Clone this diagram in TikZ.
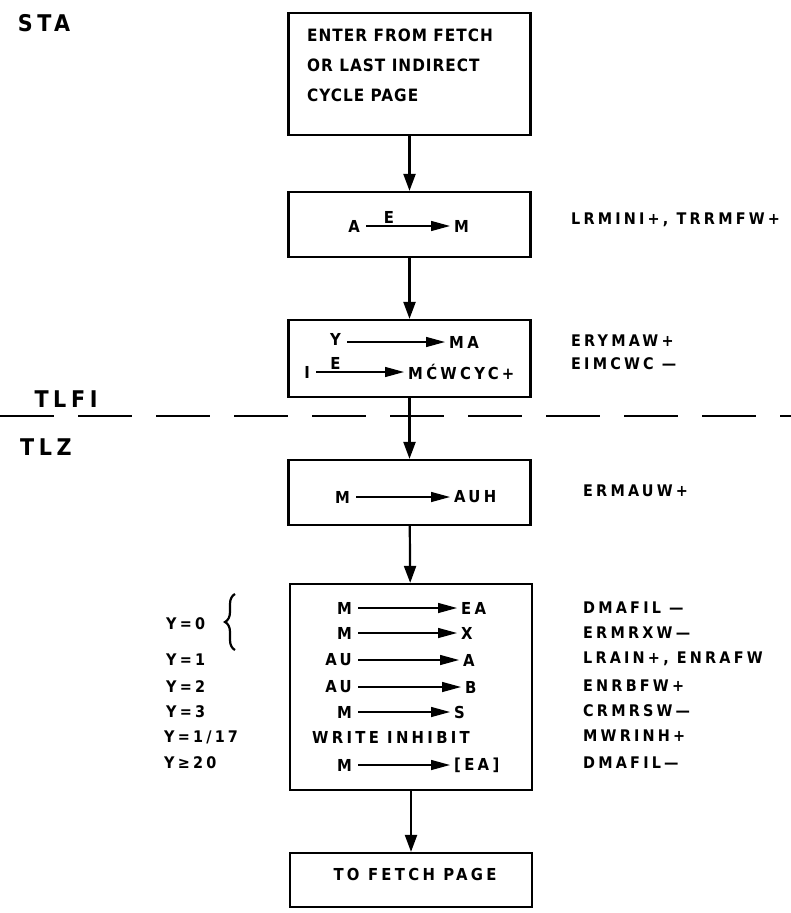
\documentclass[tikz,border=0pt]{standalone}
\usepackage{fontspec}
\newfontfamily\lettering{DejaVu Sans Condensed}[LetterSpace=6]
\newfontfamily\spaced{DejaVu Sans Condensed}[LetterSpace=20]
\usetikzlibrary{arrows.meta, decorations.pathreplacing}
\tikzset{
    % Boxes - plain rectangles
    stepbox/.style={
        rectangle,
        draw,
        line width=2.2pt,
        minimum width=242pt,
        inner sep=0pt
    },
    % Arrow styles
    flow/.style={
        -{Triangle[length=17pt,width=12pt]},
        line width=2.2pt
    },
    xfer/.style={
        -{Triangle[length=19pt,width=10pt]},
        line width=1.4pt,
        shorten <=4pt,
        shorten >=2pt
    },
    % Text styles
    reg/.style={
        font=\spaced\bfseries\fontsize{16.5}{20}\selectfont,
        inner sep=2pt
    },
    sig/.style={
        font=\spaced\bfseries\fontsize{16}{19}\selectfont,
        anchor=west,
        inner sep=0pt
    },
    side/.style={
        font=\spaced\bfseries\fontsize{23}{27}\selectfont,
        inner sep=0pt
    },
    note/.style={
        font=\lettering\bfseries\fontsize{17}{30}\selectfont,
        align=left,
        anchor=west,
        inner sep=0pt
    }
}

\begin{document}
\begin{tikzpicture}[x=1pt, y=-1pt]
    \useasboundingbox (0,0) rectangle (791,913);

    % Page labels
    \node[side] (sta) at (44,23) {STA};
    \node[side] (tlfi) at (66,399) {TLFI};
    \node[side] (tlz) at (46,447) {TLZ};
    \coordinate (cutL) at (0,416);
    \coordinate (cutR) at (791,416);
    \draw[line width=2.6pt, dash pattern=on 54pt off 24pt] (cutL) -- (cutR);

    % Entry
    \node[stepbox, minimum height=122pt] (entry) at (409.5,74) {};
    \node[note] (entrytxt) at (307,65) {ENTER FROM FETCH\\OR LAST INDIRECT\\CYCLE PAGE};

    % A to M
    \node[stepbox, minimum height=65pt] (s1) at (409.5,224.5) {};
    \node[reg, anchor=east] (s1a) at (362,226) {A};
    \node[reg, anchor=west] (s1m) at (452,226) {M};
    \draw[xfer] (s1a) -- node[reg, above, pos=0.3] (s1e) {E} (s1m);
    \node[sig] (s1sig) at (571,220) {LRMINI+, TRRMFW+};

    % Y to MA, I to MCWCYC
    \node[stepbox, minimum height=77pt] (s2) at (409.5,358.5) {};
    \node[reg, anchor=east] (s2y) at (343,339) {Y};
    \node[reg, anchor=west] (s2ma) at (447,342) {MA};
    \draw[xfer] (s2y.east |- s2ma) -- (s2ma);
    \node[reg, anchor=east] (s2i) at (312,372) {I};
    \node[reg, anchor=west] (s2mc) at (406,372) {M\'CWCYC+};
    \draw[xfer] (s2i) -- node[reg, above, pos=0.25] (s2e) {E} (s2mc);
    \node[sig] (s2sig) at (571,341) {ERYMAW+};
    \node[sig] (s2sigb) at (571,364) {EIMCWC —};

    % M to AUH
    \node[stepbox, minimum height=65pt] (s3) at (409.5,492.5) {};
    \node[reg, anchor=east] (s3m) at (352,497) {M};
    \node[reg, anchor=west] (s3auh) at (452,497) {AUH};
    \draw[xfer] (s3m) -- (s3auh);
    \node[sig] (s3sig) at (583,491) {ERMAUW+};

    % Transfers by Y
    \node[stepbox, minimum height=206pt] (s4) at (411,687) {};
    \node[reg, anchor=east] (r1a) at (354,608) {M};
    \node[reg, anchor=west] (r1b) at (459,608) {EA};
    \node[reg, anchor=east] (r2a) at (354,633) {M};
    \node[reg, anchor=west] (r2b) at (459,633) {X};
    \node[reg, anchor=east] (r3a) at (354,660) {AU};
    \node[reg, anchor=west] (r3b) at (461,660) {A};
    \node[reg, anchor=east] (r4a) at (354,687) {AU};
    \node[reg, anchor=west] (r4b) at (463,687) {B};
    \node[reg, anchor=east] (r5a) at (354,712) {M};
    \node[reg, anchor=west] (r5b) at (452,712) {S};
    \node[reg] (r6) at (391,737) {WRITE\enspace INHIBIT};
    \node[reg, anchor=east] (r7a) at (354,765) {M};
    \node[reg, anchor=west] (r7b) at (452,765) {[EA]};
    \draw[xfer] (r1a) -- (r1b);
    \draw[xfer] (r2a) -- (r2b);
    \draw[xfer] (r3a) -- (r3b);
    \draw[xfer] (r4a) -- (r4b);
    \draw[xfer] (r5a) -- (r5b);
    \draw[xfer] (r7a) -- (r7b);

    \node[sig] (y0) at (166,624) {Y=0};
    \coordinate (braceBot) at (235,650);
    \coordinate (braceTop) at (235,594);
    \draw[line width=2.2pt, decorate, decoration={brace, amplitude=10pt}] (braceBot) -- (braceTop);
    \node[sig] (y1) at (166,660) {Y=1};
    \node[sig] (y2) at (166,687) {Y=2};
    \node[sig] (y3) at (166,712) {Y=3};
    \node[sig] (y17) at (164,737) {Y=1/17};
    \node[sig] (y20) at (164,763) {Y≥20};

    \node[sig] (q1) at (583,608) {DMAFIL —};
    \node[sig] (q2) at (583,633) {ERMRXW—};
    \node[sig] (q3) at (583,659) {LRAIN+, ENRAFW};
    \node[sig] (q4) at (583,686) {ENRBFW+};
    \node[sig] (q5) at (583,711) {CRMRSW—};
    \node[sig] (q6) at (583,736) {MWRINH+};
    \node[sig] (q7) at (583,763) {DMAFIL—};

    % Exit
    \node[stepbox, minimum height=54pt] (exit) at (411,880) {};
    \node[reg] (exittxt) at (415,874) {TO FETCH PAGE};

    % Flow
    \draw[flow] (entry) -- (s1);
    \draw[flow] (s1) -- (s2);
    \draw[flow] (s2) -- (s3);
    \draw[flow] (s3) -- (s4);
    \draw[flow] (s4) -- (exit);
\end{tikzpicture}
\end{document}
